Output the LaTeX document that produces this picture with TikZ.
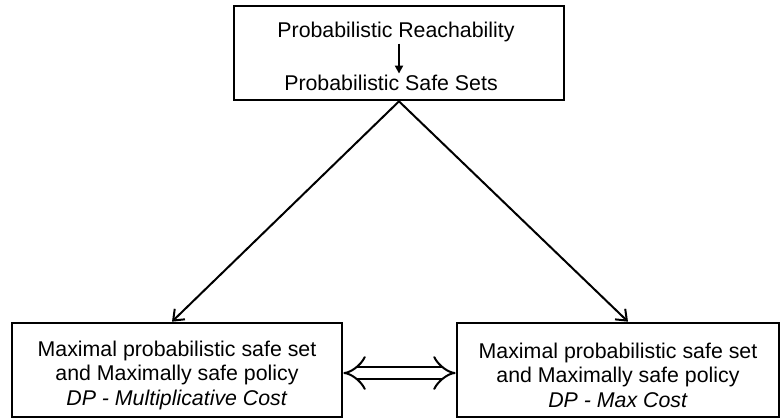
\documentclass[tikz,border=0pt]{standalone}
\usepackage{fontspec}
\setmainfont{Liberation Sans}
\usetikzlibrary{arrows.meta,positioning,calc}
\tikzset{
  rbox/.style={rectangle,draw=black,line width=2pt,minimum width=#1,
               minimum height=70.5pt,inner sep=0pt,align=center,
               font=\fontsize{16}{18.5}\selectfont},
  rbox/.default=247.5pt,
  txt/.style={inner sep=1pt,font=\fontsize{16}{19}\selectfont},
  arr/.style={-{Straight Barb[length=7pt,width=11pt]},line width=1.5pt},
  sarr/.style={-{Triangle[length=6pt,width=6pt]},line width=1.5pt},
  dbl/.style={{Implies}-{Implies},double,line width=1.5pt,double distance=7.5pt},
}
\begin{document}
\begin{tikzpicture}[x=0.75pt,y=-0.75pt]
  \useasboundingbox (0,0) rectangle (780,418);

  % --- top box ---
  \node[rbox] (top) at (399,53) {};
  \node[txt] (reach) at (396,32) {Probabilistic Reachability};
  \node[txt] (safe) at (391,83) {Probabilistic Safe Sets};
  \draw[sarr] (reach.south -| top.center) -- (safe.north -| top.center);

  % --- bottom boxes ---
  \node[rbox] (mult) at (177,370)
    {\rule{0pt}{19.5pt}Maximal probabilistic safe set\\
     and Maximally safe policy\\
     \textit{DP - Multiplicative Cost}};
  \node[rbox=241.5pt] (maxc) at (618,370)
    {\rule{0pt}{19.5pt}Maximal probabilistic safe set\\
     and Maximally safe policy\\
     \textit{DP - Max Cost}};

  \draw[arr] (top.south) -- ([xshift=-3.75pt]mult.north);
  \draw[arr] (top.south) -- ([xshift=7.5pt]maxc.north);

  \draw[dbl] ([yshift=-2.25pt]mult.east) -- ([yshift=-2.25pt]maxc.west);
\end{tikzpicture}
\end{document}
